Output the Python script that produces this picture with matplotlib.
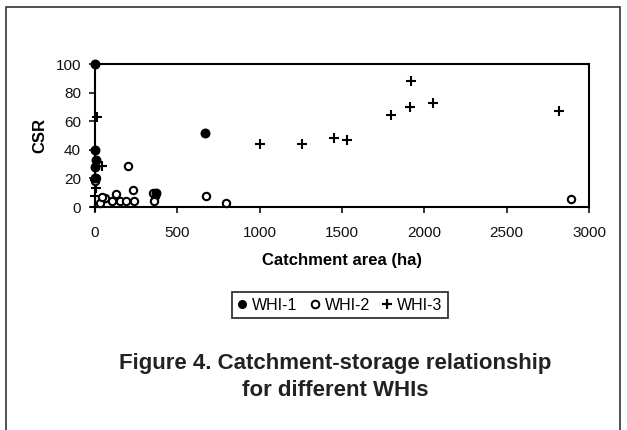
import matplotlib
matplotlib.use("Agg")
import matplotlib.pyplot as plt
from matplotlib.lines import Line2D

plt.rcParams['font.family'] = ['Liberation Sans', 'DejaVu Sans']

# WHI-1 (filled circles)
whi1_x = [0, 0, 5, 0, 665, 370, 0]
whi1_y = [100, 40, 33, 28, 52, 10, 20]
# WHI-2 (open circles)
whi2_x = [2890, 795, 674, 200, 229, 127, 364, 360, 61, 101, 152, 188, 237, 30, 40, 5, 0, 350]
whi2_y = [5.5, 3, 8, 29, 12, 9, 8, 4, 6, 4, 4, 4, 4, 2.5, 7, 20, 18, 10]
# WHI-3 (plus)
whi3_x = [1000, 1260, 1450, 1530, 1800, 1920, 1910, 2050, 2820, 12, 40, 5, 2, 0, 0]
whi3_y = [44, 44, 48, 47, 64, 88, 70, 73, 67, 63, 29, 13, 7.5, 0, 19]

x_ticks = [0, 500, 1000, 1500, 2000, 2500, 3000]
y_ticks = [0, 20, 40, 60, 80, 100]

fig = plt.figure(figsize=(6.27, 4.30), dpi=100)
ax = fig.add_axes([95/627, 1-207/430, (589-95)/627, (207-64)/430])

ax.scatter(whi3_x, whi3_y, marker='+', s=45, c='black', linewidths=1.5, zorder=3, clip_on=False)
ax.scatter(whi2_x, whi2_y, marker='o', s=28, facecolors='white', edgecolors='black', linewidths=1.5, zorder=4, clip_on=False)
ax.scatter(whi1_x, whi1_y, marker='o', s=38, c='black', zorder=5, clip_on=False)

ax.set_xlim(0, 3000)
ax.set_ylim(0, 100)
ax.set_xticks(x_ticks)
ax.set_yticks(y_ticks)
for s in ax.spines.values():
    s.set_linewidth(1.5)
ax.tick_params(axis='both', direction='out', length=4, width=1.2, labelsize=11, colors='#111111')
ax.tick_params(axis='x', pad=10)
ax.tick_params(axis='y', pad=6)
ax.set_xlabel('Catchment area (ha)', fontsize=12, fontweight='bold', labelpad=9)
ax.set_ylabel('CSR', fontsize=12, fontweight='bold', labelpad=6)

handles = [
    Line2D([], [], marker='o', linestyle='none', color='black', markersize=5.5),
    Line2D([], [], marker='o', linestyle='none', markerfacecolor='white', markeredgecolor='black', markersize=5.5, markeredgewidth=1.4),
    Line2D([], [], marker='+', linestyle='none', color='black', markersize=7, markeredgewidth=1.6),
]
leg = fig.legend(handles, ['WHI-1', 'WHI-2', 'WHI-3'], loc='center', bbox_to_anchor=(340/627, 1-305/430),
                 ncol=3, frameon=True, fancybox=False, edgecolor='black', fontsize=11.5,
                 handlelength=0.6, handletextpad=0.3, columnspacing=0.8, borderpad=0.35)
leg.get_frame().set_linewidth(1.3)

fig.text(335/627, 1-363/430, 'Figure 4. Catchment-storage relationship', ha='center', va='center',
         fontsize=16, fontweight='bold', color='#222222')
fig.text(335/627, 1-391/430, 'for different WHIs', ha='center', va='center',
         fontsize=16, fontweight='bold', color='#222222')

# outer border
fig.add_artist(plt.Rectangle((6/627, -0.05), (620-6)/627, 1-7/430+0.05, transform=fig.transFigure,
                             fill=False, edgecolor='#333333', linewidth=1.2))

fig.savefig('out.png', dpi=100)
